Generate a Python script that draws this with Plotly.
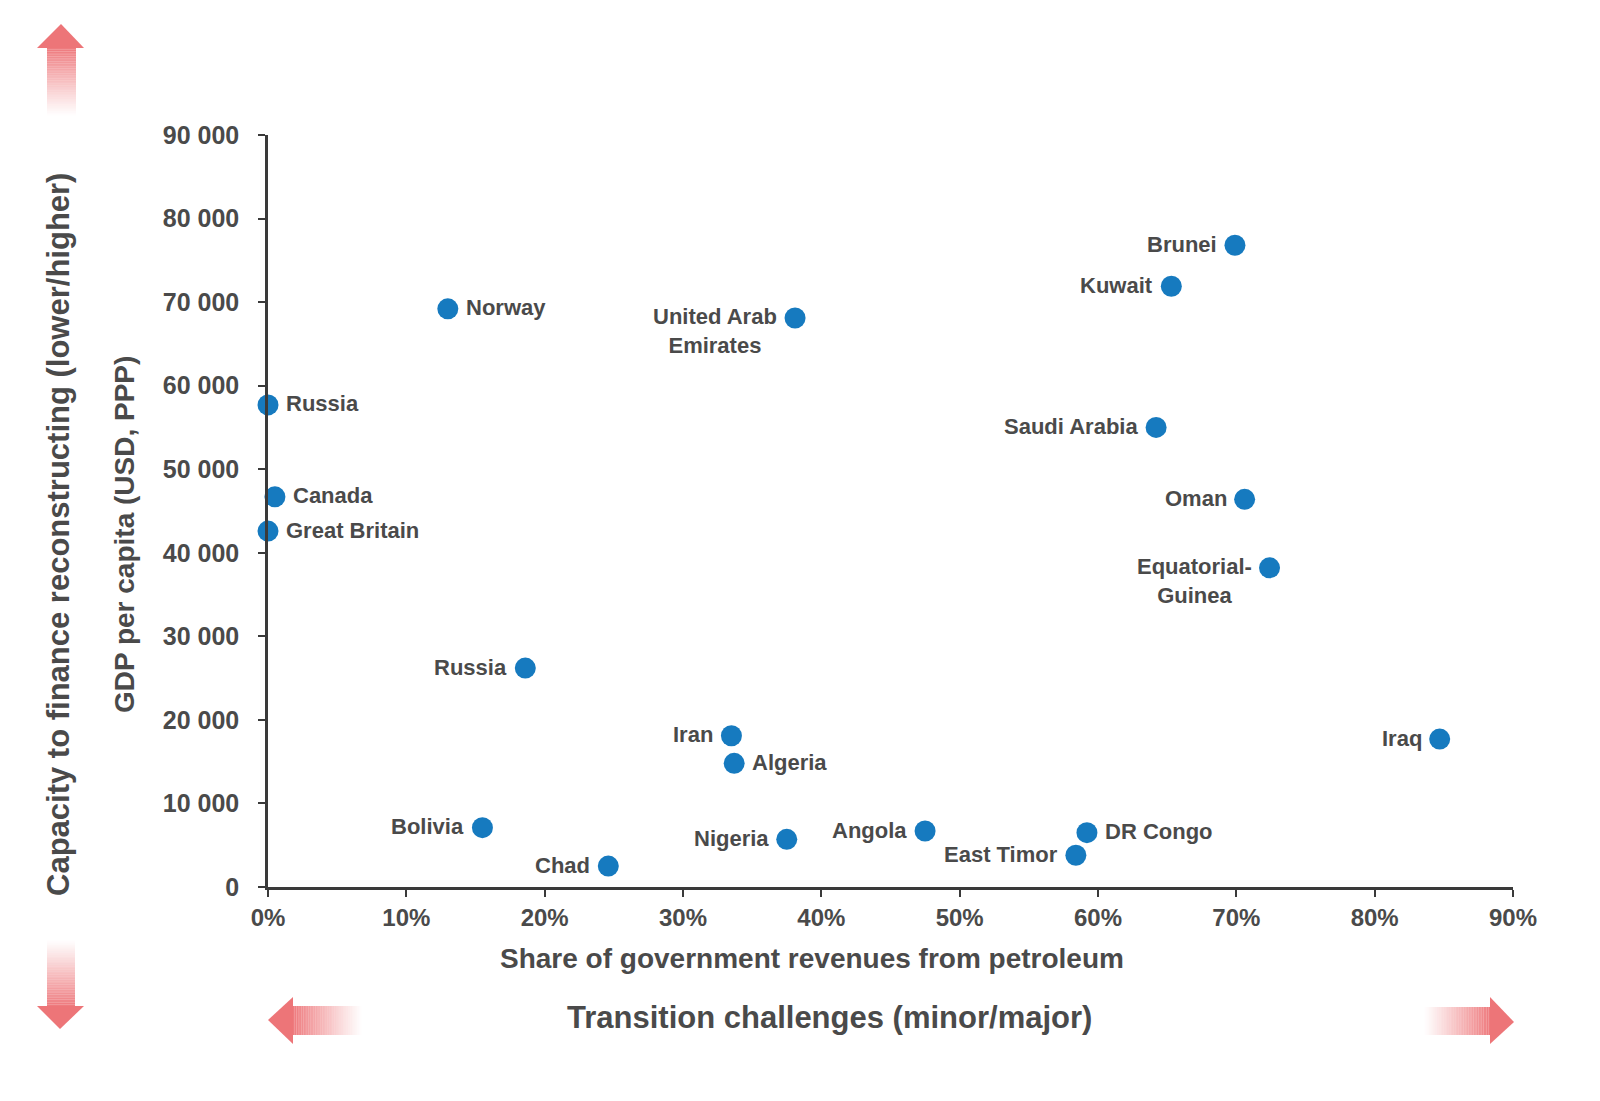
import plotly.graph_objects as go

# ---------------- data ----------------
countries = ["Norway", "United Arab<br>Emirates", "Brunei", "Kuwait", "Russia",
             "Saudi Arabia", "Canada", "Oman", "Great Britain", "Equatorial-<br>Guinea",
             "Russia", "Iran", "Algeria", "Iraq", "Bolivia", "Nigeria", "Angola",
             "DR Congo", "East Timor", "Chad"]
petro_share = [13.0, 38.1, 69.9, 65.3, 0.0, 64.2, 0.5, 70.6, 0.0, 72.4,
               18.6, 33.5, 33.7, 84.7, 15.5, 37.5, 47.5, 59.2, 58.4, 24.6]
gdp_ppp = [69200, 68100, 76800, 71900, 57700, 55000, 46700, 46400, 42600, 38200,
           26200, 18100, 14800, 17700, 7100, 5700, 6700, 6500, 3800, 2500]
x_ticks = [0, 10, 20, 30, 40, 50, 60, 70, 80, 90]
x_tick_labels = ["0%", "10%", "20%", "30%", "40%", "50%", "60%", "70%", "80%", "90%"]
y_ticks = [0, 10000, 20000, 30000, 40000, 50000, 60000, 70000, 80000, 90000]
y_tick_labels = ["0", "10 000", "20 000", "30 000", "40 000", "50 000",
                 "60 000", "70 000", "80 000", "90 000"]

# label placement (style, not data)
label_side = ["right", "left", "left", "left", "right", "left", "right", "left", "right", "left",
              "left", "left", "right", "left", "left", "left", "left", "right", "left", "left"]

FONT = "Liberation Sans, Arial, sans-serif"
TXT = "#4a4a4a"
OFF = 8                     # page body margin
W, H = 1584, 1085
L, R, T, B = 268, 1513, 135, 887  # plot area in page pixels

def px(xp):
    return (xp - L) / (R - L)

def py(yp):
    return (B - yp) / (B - T)

fig = go.Figure()
fig.add_trace(go.Scatter(
    x=petro_share, y=gdp_ppp, mode="markers",
    marker=dict(size=21, color="#167abf", line=dict(width=0)),
    cliponaxis=False, hoverinfo="skip", showlegend=False,
))

annotations = []
for c, xv, yv, side in zip(countries, petro_share, gdp_ppp, label_side):
    two = "<br>" in c
    annotations.append(dict(
        x=xv, y=yv, xref="x", yref="y", text=c, showarrow=False,
        xanchor="left" if side == "right" else "right",
        yanchor="middle", align="center",
        xshift=16 if side == "right" else -16,
        yshift=-13 if two else 1,
        font=dict(family=FONT, size=22, color=TXT, weight="bold"),
    ))

# axis titles as annotations
annotations += [
    dict(x=px(58), y=py(535), xref="paper", yref="paper", showarrow=False,
         text="Capacity to finance reconstructing (lower/higher)", textangle=-90,
         xanchor="center", yanchor="middle",
         font=dict(family=FONT, size=31, color=TXT, weight="bold")),
    dict(x=px(124), y=py(535), xref="paper", yref="paper", showarrow=False,
         text="GDP per capita (USD, PPP)", textangle=-90,
         xanchor="center", yanchor="middle",
         font=dict(family=FONT, size=28, color=TXT, weight="bold")),
    dict(x=px(812), y=py(958), xref="paper", yref="paper", showarrow=False,
         text="Share of government revenues from petroleum",
         xanchor="center", yanchor="middle",
         font=dict(family=FONT, size=28, color=TXT, weight="bold")),
    dict(x=px(829), y=py(1017), xref="paper", yref="paper", showarrow=False,
         text="Transition challenges (minor/major)",
         xanchor="center", yanchor="middle",
         font=dict(family=FONT, size=31, color=TXT, weight="bold")),
]

# ---------------- gradient arrows ----------------
shapes = []
RED = (236, 106, 110)
N = 40

def rgba(a):
    return f"rgba({RED[0]},{RED[1]},{RED[2]},{a:.3f})"

def path(points):
    return "M " + " L ".join(f"{px(a)},{py(b)}" for a, b in points) + " Z"

def vertical_arrow(x0, x1, solid_y, fade_y, hx0, hx1, tip_x, tip_y):
    for i in range(N):
        ya = solid_y + (fade_y - solid_y) * i / N
        yb = solid_y + (fade_y - solid_y) * (i + 1) / N
        a = 0.9 * (1 - (i + 0.5) / N) ** 1.1
        shapes.append(dict(type="rect", xref="paper", yref="paper",
                           x0=px(x0), x1=px(x1), y0=py(ya), y1=py(yb),
                           fillcolor=rgba(a), line=dict(width=0), layer="below"))
    shapes.append(dict(type="path", xref="paper", yref="paper",
                       path=path([(hx0, solid_y), (hx1, solid_y), (tip_x, tip_y)]),
                       fillcolor=rgba(0.93), line=dict(width=0), layer="below"))

def horizontal_arrow(y0, y1, solid_x, fade_x, hy0, hy1, tip_x, tip_y):
    for i in range(N):
        xa = solid_x + (fade_x - solid_x) * i / N
        xb = solid_x + (fade_x - solid_x) * (i + 1) / N
        a = 0.9 * (1 - (i + 0.5) / N) ** 1.1
        shapes.append(dict(type="rect", xref="paper", yref="paper",
                           x0=px(xa), x1=px(xb), y0=py(y0), y1=py(y1),
                           fillcolor=rgba(a), line=dict(width=0), layer="below"))
    shapes.append(dict(type="path", xref="paper", yref="paper",
                       path=path([(solid_x, hy0), (solid_x, hy1), (tip_x, tip_y)]),
                       fillcolor=rgba(0.93), line=dict(width=0), layer="below"))

vertical_arrow(47, 76, 48, 116, 37, 84, 61, 24)       # up
vertical_arrow(47, 75, 1006, 940, 37, 84, 60, 1029)   # down
horizontal_arrow(1006, 1035, 293, 362, 997, 1044, 268, 1020)    # left
horizontal_arrow(1007, 1035, 1490, 1424, 997, 1044, 1514, 1022)  # right

fig.update_layout(
    width=W, height=H,
    margin=dict(l=L - OFF, r=W - (R - OFF), t=T - OFF, b=H - (B - OFF), pad=0),
    paper_bgcolor="white", plot_bgcolor="white",
    font=dict(family=FONT, color=TXT),
    annotations=annotations, shapes=shapes,
    xaxis=dict(range=[0, 90], tickvals=x_ticks, ticktext=x_tick_labels,
               showgrid=False, zeroline=False, showline=True,
               linecolor="#3a3a3a", linewidth=2.5,
               ticks="outside", ticklen=7, tickwidth=2, tickcolor="#3a3a3a",
               ticklabelstandoff=0,
               tickfont=dict(family=FONT, size=24, color=TXT, weight="bold")),
    yaxis=dict(range=[0, 90000], tickvals=y_ticks, ticktext=y_tick_labels,
               showgrid=False, zeroline=False, showline=True,
               linecolor="#3a3a3a", linewidth=2.5,
               ticks="outside", ticklen=7, tickwidth=2, tickcolor="#3a3a3a",
               ticklabelstandoff=14,
               tickfont=dict(family=FONT, size=25, color=TXT, weight="bold")),
)

fig.write_html("out.html")
